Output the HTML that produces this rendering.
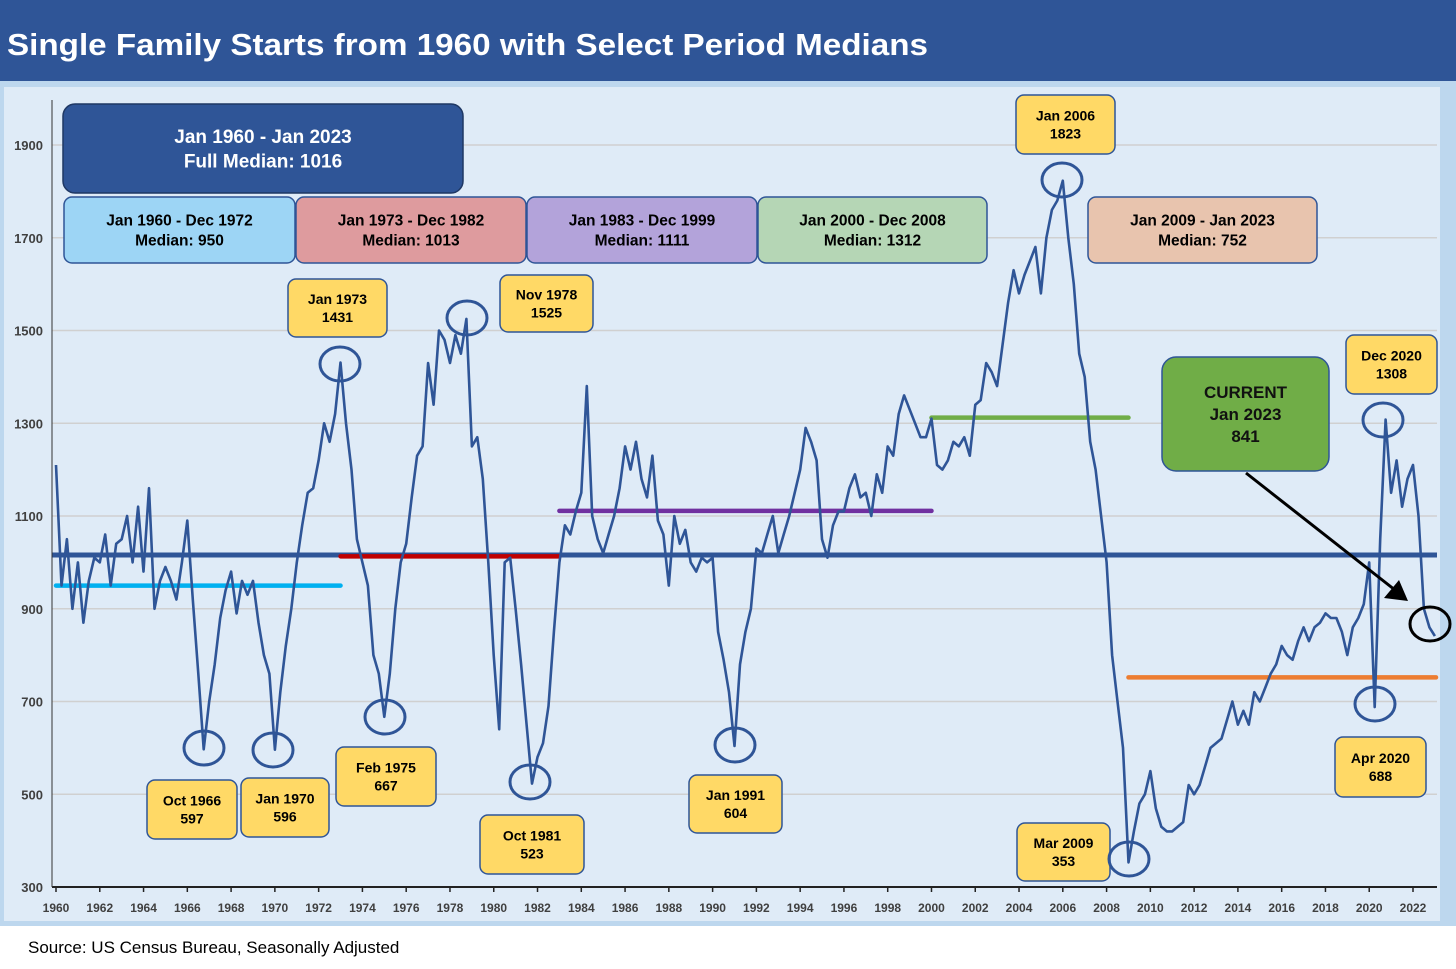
<!DOCTYPE html>
<html><head><meta charset="utf-8">
<style>
html,body{margin:0;padding:0;background:#fff;}
svg{display:block;font-family:"Liberation Sans",sans-serif;}
</style></head>
<body>
<svg id="chart" width="1456" height="969" viewBox="0 0 1456 969" xmlns="http://www.w3.org/2000/svg">
  <rect x="0" y="0" width="1456" height="81" fill="#2F5597"/>
  <text x="7" y="55" fill="#fff" font-size="31" font-weight="bold" textLength="921" lengthAdjust="spacingAndGlyphs">Single Family Starts from 1960 with Select Period Medians</text>
  <rect x="0" y="81" width="1456" height="845" fill="#BDD7EE"/>
  <rect x="4" y="87" width="1436" height="834" fill="#DFEBF7"/>
  <rect x="0" y="926" width="1456" height="43" fill="#fff"/>
  <text x="28" y="953" font-size="17" fill="#000">Source: US Census Bureau, Seasonally Adjusted</text>
  <g id="grid"></g>
  <g id="medians"></g>
  <g id="series"></g>
  <g id="axes"></g>
  <g id="annotations"></g>
</svg>
<script>
const yTicks=[300,500,700,900,1100,1300,1500,1700,1900];
const xTickYears=[1960,1962,1964,1966,1968,1970,1972,1974,1976,1978,1980,1982,1984,1986,1988,1990,1992,1994,1996,1998,2000,2002,2004,2006,2008,2010,2012,2014,2016,2018,2020,2022];
const startYear=1960;
const starts=[
1210,950,1050,900, 1000,870,960,1010, 1000,1060,950,1040, 1050,1100,1000,1120,
980,1160,900,960, 990,960,920,1000, 1090,920,760,597, 700,780,880,940,
980,890,960,930, 960,870,800,760, 596,720,820,900, 1000,1080,1150,1160,
1220,1300,1260,1320, 1431,1300,1200,1050, 1000,950,800,760, 667,760,900,1000,
1040,1140,1230,1250, 1430,1340,1500,1480, 1430,1490,1450,1525, 1250,1270,1180,1000,
800,640,1000,1010, 900,780,650,523, 580,610,690,850, 1000,1080,1060,1110,
1150,1380,1100,1050, 1020,1060,1100,1160, 1250,1200,1260,1180, 1140,1230,1090,1060,
950,1100,1040,1070, 1000,980,1010,1000, 1010,850,790,720, 604,780,850,900,
1030,1020,1060,1100, 1020,1060,1100,1150, 1200,1290,1260,1220, 1050,1010,1080,1110,
1110,1160,1190,1140, 1150,1100,1190,1150, 1250,1230,1320,1360, 1330,1300,1270,1270,
1310,1210,1200,1220, 1260,1250,1270,1230, 1340,1350,1430,1410, 1380,1470,1560,1630,
1580,1620,1650,1680, 1580,1700,1760,1780, 1823,1700,1600,1450, 1400,1260,1200,1100,
1000,800,700,600, 353,420,480,500, 550,470,430,420, 420,430,440,520,
500,520,560,600, 610,620,660,700, 650,680,650,720, 700,730,760,780,
820,800,790,830, 860,830,860,870, 890,880,880,850, 800,860,880,910,
1000,688,1050,1308, 1150,1220,1120,1180, 1210,1100,900,860, 841];
const medianLabels=["full","1960-1972","1973-1982","1983-1999","2000-2008","2009-2023"];
const medianValues=[1016,950,1013,1111,1312,752];
const medianStart=[1960,1960,1973,1983,2000,2009];
const medianEnd=[2023.1,1973,1983,2000,2009,2023.1];
const medianColors=["#2F5597","#00B0F0","#C00000","#7030A0","#70AD47","#ED7D31"];

const NS="http://www.w3.org/2000/svg";
const X0=56,X1=1413,Y0=887,Y1=145;
function xs(yr){return X0+(yr-1960)*(X1-X0)/62;}
function ys(v){return Y0-(v-300)*(Y0-Y1)/1600;}
function mk(tag,attrs,parent,text){const e=document.createElementNS(NS,tag);for(const k in attrs)e.setAttribute(k,attrs[k]);if(text!==undefined)e.textContent=text;parent.appendChild(e);return e;}

const grid=document.getElementById('grid'),axes=document.getElementById('axes');
yTicks.forEach(v=>{
  if(v>300){const l=mk('line',{x1:52,x2:1437,y1:ys(v),y2:ys(v),stroke:'#D0D0D0','stroke-width':1.5},grid);
  
  }
  const t=mk('text',{x:43,y:ys(v)+5,'text-anchor':'end','font-size':13,'font-weight':'bold',fill:'#404040'},axes,String(v));
  
  
});
const ax=mk('line',{x1:52,x2:1437,y1:Y0,y2:Y0,stroke:'#222','stroke-width':2},axes);


const ay=mk('line',{x1:52,x2:52,y1:100,y2:Y0,stroke:'#333','stroke-width':1},axes);


xTickYears.forEach(yr=>{
  mk('line',{x1:xs(yr),x2:xs(yr),y1:Y0,y2:Y0+5,stroke:'#222','stroke-width':1.5},axes);
  const t=mk('text',{x:xs(yr),y:912,'text-anchor':'middle','font-size':12,'font-weight':'bold',fill:'#404040'},axes,String(yr));
  
  
});

const med=document.getElementById('medians');
medianValues.forEach((v,i)=>{
  const l=mk('line',{x1:i==0?52:xs(medianStart[i]),x2:i==0?1437:(medianEnd[i]>2023?1436:xs(medianEnd[i])),y1:ys(v),y2:ys(v),stroke:medianColors[i],'stroke-width':i==0?5:4.5,'stroke-linecap':i==0?'butt':'round'},med);
  
  
});

const d=starts.map((v,i)=>(i?'L':'M')+xs(startYear+i*0.25).toFixed(1)+','+ys(v).toFixed(1)).join(' ');
const p=mk('path',{d:d,fill:'none',stroke:'#2F5597','stroke-width':2.6,'stroke-linejoin':'round'},document.getElementById('series'));



const ann=document.getElementById('annotations');
function box(name,x,y,w,h,fill,lines,fs,color,stroke,r){
  const g=mk('g',{},ann);
  
  
  mk('rect',{x:x,y:y,width:w,height:h,rx:r||8,fill:fill,stroke:stroke||'#2F5597','stroke-width':1.5},g);
  const lh=fs*1.3,top=y+h/2-(lines.length-1)*lh/2+fs*0.36;
  lines.forEach((s,k)=>mk('text',{x:x+w/2,y:top+k*lh,'text-anchor':'middle','font-size':fs,'font-weight':'bold',fill:color||'#000'},g,s));
}
box('full-median-box',63,104,400,89,'#2F5597',['Jan 1960 - Jan 2023','Full Median: 1016'],19,'#fff','#1F3864',12);
box('median-box-1960-1972',64,197,231,66,'#9DD5F5',['Jan 1960 - Dec 1972','Median: 950'],15.5);
box('median-box-1973-1982',296,197,230,66,'#DE9B9E',['Jan 1973 - Dec 1982','Median: 1013'],15.5);
box('median-box-1983-1999',527,197,230,66,'#B3A3DA',['Jan 1983 - Dec 1999','Median: 1111'],15.5);
box('median-box-2000-2008',758,197,229,66,'#B5D6B5',['Jan 2000 - Dec 2008','Median: 1312'],15.5);
box('median-box-2009-2023',1088,197,229,66,'#E8C4AE',['Jan 2009 - Jan 2023','Median: 752'],15.5);
box('callout-jan-1973',288,279,99,58,'#FFD966',['Jan 1973','1431'],14);
box('callout-nov-1978',500,275,93,57,'#FFD966',['Nov 1978','1525'],14);
box('callout-oct-1966',147,780,90,59,'#FFD966',['Oct 1966','597'],14);
box('callout-jan-1970',241,778,88,59,'#FFD966',['Jan 1970','596'],14);
box('callout-feb-1975',336,747,100,59,'#FFD966',['Feb 1975','667'],14);
box('callout-oct-1981',480,815,104,59,'#FFD966',['Oct 1981','523'],14);
box('callout-jan-1991',689,775,93,58,'#FFD966',['Jan 1991','604'],14);
box('callout-jan-2006',1016,95,99,59,'#FFD966',['Jan 2006','1823'],14);
box('callout-mar-2009',1017,823,93,58,'#FFD966',['Mar 2009','353'],14);
box('callout-dec-2020',1346,335,91,59,'#FFD966',['Dec 2020','1308'],14);
box('callout-apr-2020',1335,737,91,60,'#FFD966',['Apr 2020','688'],14);
box('current-value-box',1162,357,167,114,'#70AD47',['CURRENT','Jan 2023','841'],17,'#111','#2F5597',14);

const circ=[[204,748,'oct-1966'],[273,750,'jan-1970'],[385,717,'feb-1975'],[530,782,'oct-1981'],[735,745,'jan-1991'],[340,364,'jan-1973'],[467,318,'nov-1978'],[1062,180,'jan-2006'],[1129,859,'mar-2009'],[1375,704,'apr-2020'],[1383,420,'dec-2020']];
circ.forEach(c=>{
  const e=mk('ellipse',{cx:c[0],cy:c[1],rx:20,ry:17,fill:'none',stroke:'#2F5597','stroke-width':3},ann);
  
  
});
const bc=mk('ellipse',{cx:1430,cy:624,rx:20,ry:17,fill:'none',stroke:'#000','stroke-width':3},ann);


const ar=mk('g',{},ann);


mk('line',{x1:1246,y1:473,x2:1395,y2:590,stroke:'#000','stroke-width':3},ar);
mk('polygon',{points:'1408,601 1384,598 1399,580',fill:'#000'},ar);
</script>
</body></html>
